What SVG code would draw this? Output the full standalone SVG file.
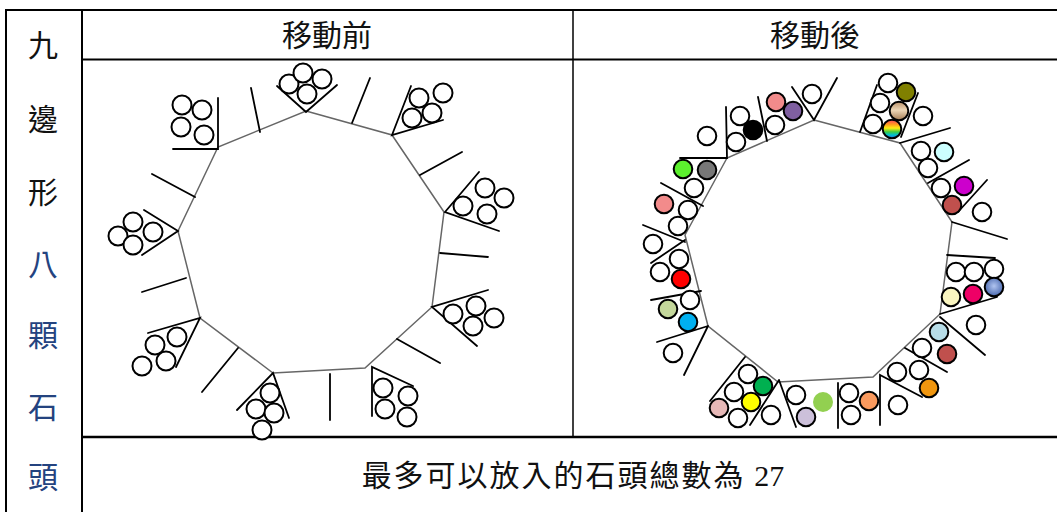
<svg xmlns="http://www.w3.org/2000/svg" width="1057" height="512" viewBox="0 0 1057 512">
<style>
.tbl{stroke:#000;fill:none}
.poly{fill:none;stroke:#666;stroke-width:1.5}
.ln{stroke:#000;stroke-width:1.8;fill:none;stroke-linecap:round}
.s{stroke:#000;stroke-width:2}
.t{font-family:"Noto Sans CJK TC","Noto Sans CJK SC",sans-serif;font-size:30px;fill:#111;text-anchor:middle}
.b{fill:#24437f}
</style>
<defs>
<linearGradient id="tan" x1="0" y1="0" x2="0" y2="1">
<stop offset="0" stop-color="#b8906a"/><stop offset="0.45" stop-color="#ecd6b6"/><stop offset="1" stop-color="#a27a52"/>
</linearGradient>
<linearGradient id="rainbow" x1="0" y1="0" x2="0" y2="1">
<stop offset="0" stop-color="#ff4060"/><stop offset="0.25" stop-color="#ff9a20"/><stop offset="0.45" stop-color="#ffee10"/><stop offset="0.65" stop-color="#40cc40"/><stop offset="0.82" stop-color="#00c0d0"/><stop offset="1" stop-color="#2a70e0"/>
</linearGradient>
<radialGradient id="blue" cx="0.5" cy="0.45" r="0.6">
<stop offset="0" stop-color="#b0c4f0"/><stop offset="1" stop-color="#4060a8"/>
</radialGradient>
</defs>
<rect width="1057" height="512" fill="#fff"/>
<g id="table" class="tbl">
<line x1="5" y1="10" x2="1057" y2="10" stroke-width="2"/>
<line x1="6" y1="9" x2="6" y2="512" stroke-width="2"/>
<line x1="82" y1="9" x2="82" y2="512" stroke-width="2"/>
<line x1="82" y1="59.5" x2="1057" y2="59.5" stroke-width="2"/>
<line x1="573" y1="10" x2="573" y2="437" stroke-width="1.5"/>
<line x1="82" y1="437" x2="1057" y2="437" stroke-width="2.5"/>
</g>
<g id="labels">
<text class="t" x="327" y="46">移動前</text>
<text class="t" x="815" y="46">移動後</text>
<text class="t" x="573" y="486" style="letter-spacing:2px">最多可以放入的石頭總數為 <tspan font-family="Liberation Serif, serif" style="letter-spacing:0">27</tspan></text>
</g>
<g id="side-label">
<text class="t" x="43" y="56">九</text>
<text class="t" x="43" y="130">邊</text>
<text class="t" x="43" y="203">形</text>
<text class="t b" x="43" y="275">八</text>
<text class="t b" x="43" y="346">顆</text>
<text class="t b" x="43" y="418">石</text>
<text class="t b" x="43" y="488">頭</text>
</g>
<g id="before">
<polygon class="poly" points="306,111 392,135 444,212 432,307 365,368 273,373 200,318 178,231 218,147"/>
<g id="before-connectors">
<path class="ln" d="M218,98 L218,149 L173,149 M277,86 L306,112 L337,85 M144,210 L178,231 L142,255 M148,333 L200,318 L176,367 M237,410 L273,373 L289,418 M372,416 L372,367 L413,386 M488,290 L432,307 L477,346 M479,172 L445,212 L499,231 M411,86 L392,135 L443,120"/>
<path class="ln" d="M260,132 L251,88 M352,123 L370,78 M420,175 L462,152 M440,253 L488,257 M397,339 L440,363 M330,374 L330,420 M238,348 L202,392 M186,278 L142,292 M195,197 L152,174"/>
</g>
<g id="before-stones" style="fill:#fff">
<circle class="s" cx="182" cy="105" r="9.5"/><circle class="s" cx="202" cy="110" r="9.5"/><circle class="s" cx="181" cy="127" r="9.5"/><circle class="s" cx="204" cy="135" r="9.5"/>
<circle class="s" cx="289" cy="84" r="9.5"/><circle class="s" cx="303" cy="73" r="9.5"/><circle class="s" cx="322" cy="79" r="9.5"/><circle class="s" cx="307" cy="94" r="9.5"/>
<circle class="s" cx="419" cy="98" r="9.5"/><circle class="s" cx="443" cy="93" r="9.5"/><circle class="s" cx="412" cy="118" r="9.5"/><circle class="s" cx="432" cy="113" r="9.5"/>
<circle class="s" cx="463" cy="206" r="9.5"/><circle class="s" cx="485" cy="188" r="9.5"/><circle class="s" cx="504" cy="198" r="9.5"/><circle class="s" cx="487" cy="214" r="9.5"/>
<circle class="s" cx="453" cy="314" r="9.5"/><circle class="s" cx="476" cy="306" r="9.5"/><circle class="s" cx="494" cy="318" r="9.5"/><circle class="s" cx="473" cy="326" r="9.5"/>
<circle class="s" cx="383" cy="388" r="9.5"/><circle class="s" cx="408" cy="396" r="9.5"/><circle class="s" cx="385" cy="409" r="9.5"/><circle class="s" cx="407" cy="417" r="9.5"/>
<circle class="s" cx="270" cy="393" r="9.5"/><circle class="s" cx="256" cy="409" r="9.5"/><circle class="s" cx="274" cy="413" r="9.5"/><circle class="s" cx="262" cy="430" r="9.5"/>
<circle class="s" cx="177" cy="337" r="9.5"/><circle class="s" cx="155" cy="345" r="9.5"/><circle class="s" cx="166" cy="361" r="9.5"/><circle class="s" cx="142" cy="366" r="9.5"/>
<circle class="s" cx="133" cy="222" r="9.5"/><circle class="s" cx="153" cy="232" r="9.5"/><circle class="s" cx="118" cy="236" r="9.5"/><circle class="s" cx="133" cy="245" r="9.5"/>
</g>
</g>
<g id="after">
<polygon class="poly" points="814,120 900,143 952,222 940,314 873,377 778,382 708,326 685,235 727,158"/>
<g id="after-connectors">
<path class="ln" d="M726,107 L727,158 L680,158 M758,97 L767,141 M792,87 L814,120 L837,78 M661,183 L703,206 M643,225 L685,242 M860,132 L877,85 M901,137 L918,93 M900,143 L950,128 M928,183 L969,160 M958,212 L987,180 M952,222 L1007,239 M947,255 L995,258 M940,314 L997,297 M940,317 L985,355 M905,348 L947,372 M922,397 L880,375 L880,425 M838,383 L838,428 M779,380 L796,427 M745,357 L710,401 M779,380 L750,425 M708,326 L684,375 M657,342 L708,326 M651,300 L701,291 M651,263 L685,240"/>
</g>
<g id="after-stones" fill="#fff">
<circle class="s" cx="707" cy="136" r="9.3"/>
<circle class="s" cx="740" cy="116" r="9.3"/>
<circle class="s" cx="736" cy="142" r="9.3"/>
<circle class="s" cx="753" cy="130" r="9.3" fill="#000"/>
<circle class="s" cx="775" cy="125" r="9.3"/>
<circle class="s" cx="776" cy="102" r="9.3" fill="#f28b8b"/>
<circle class="s" cx="793" cy="111" r="9.3" fill="#7f5fa0"/>
<circle class="s" cx="812" cy="94" r="9.3"/>
<circle class="s" cx="683" cy="169" r="9.3" fill="#5cf02e"/>
<circle class="s" cx="707" cy="170" r="9.3" fill="#777"/>
<circle class="s" cx="694" cy="188" r="9.3"/>
<circle class="s" cx="664" cy="204" r="9.3" fill="#f28b8b"/>
<circle class="s" cx="688" cy="210" r="9.3"/>
<circle class="s" cx="678" cy="226" r="9.3"/>
<circle class="s" cx="653" cy="244" r="9.3"/>
<circle class="s" cx="888" cy="83" r="9.3"/>
<circle class="s" cx="906" cy="92" r="9.3" fill="#808000"/>
<circle class="s" cx="880" cy="103" r="9.3"/>
<circle class="s" cx="899" cy="111" r="9.3" fill="url(#tan)"/>
<circle class="s" cx="873" cy="124" r="9.3"/>
<circle class="s" cx="892" cy="129" r="9.3" fill="url(#rainbow)"/>
<circle class="s" cx="923" cy="116" r="9.3"/>
<circle class="s" cx="921" cy="151" r="9.3"/>
<circle class="s" cx="944" cy="152" r="9.3" fill="#ccffff"/>
<circle class="s" cx="928" cy="168" r="9.3"/>
<circle class="s" cx="941" cy="188" r="9.3"/>
<circle class="s" cx="964" cy="186" r="9.3" fill="#cc00cc"/>
<circle class="s" cx="952" cy="205" r="9.3" fill="#c0504d"/>
<circle class="s" cx="982" cy="212" r="9.3"/>
<circle class="s" cx="956" cy="272" r="9.3"/>
<circle class="s" cx="974" cy="272" r="9.3"/>
<circle class="s" cx="994" cy="269" r="9.3"/>
<circle class="s" cx="951" cy="297" r="9.3" fill="#f9f5c0"/>
<circle class="s" cx="973" cy="294" r="9.3" fill="#ee0066"/>
<circle class="s" cx="994" cy="287" r="9.3" fill="url(#blue)"/>
<circle class="s" cx="976" cy="325" r="9.3"/>
<circle class="s" cx="939" cy="332" r="9.3" fill="#b7dde8"/>
<circle class="s" cx="922" cy="348" r="9.3"/>
<circle class="s" cx="947" cy="354" r="9.3" fill="#c0504d"/>
<circle class="s" cx="897" cy="372" r="9.3"/>
<circle class="s" cx="919" cy="370" r="9.3"/>
<circle class="s" cx="929" cy="388" r="9.3" fill="#f0960f"/>
<circle class="s" cx="898" cy="405" r="9.3"/>
<circle class="s" cx="849" cy="393" r="9.3"/>
<circle class="s" cx="869" cy="401" r="9.3" fill="#fa9a5e"/>
<circle class="s" cx="851" cy="415" r="9.3"/>
<circle class="s" cx="679" cy="259" r="9.3"/>
<circle class="s" cx="660" cy="272" r="9.3"/>
<circle class="s" cx="681" cy="279" r="9.3" fill="#ff0000"/>
<circle class="s" cx="690" cy="300" r="9.3"/>
<circle class="s" cx="668" cy="309" r="9.3" fill="#c4d79b"/>
<circle class="s" cx="688" cy="322" r="9.3" fill="#00b0f0"/>
<circle class="s" cx="673" cy="353" r="9.3"/>
<circle class="s" cx="748" cy="374" r="9.3"/>
<circle class="s" cx="763" cy="386" r="9.3" fill="#00b050"/>
<circle class="s" cx="734" cy="392" r="9.3"/>
<circle class="s" cx="751" cy="402" r="9.3" fill="#ffff00"/>
<circle class="s" cx="719" cy="408" r="9.3" fill="#e6b8b7"/>
<circle class="s" cx="738" cy="418" r="9.3"/>
<circle class="s" cx="771" cy="415" r="9.3"/>
<circle class="s" cx="796" cy="395" r="9.3"/>
<circle class="s" cx="806" cy="417" r="9.3" fill="#ccc0da"/>
<circle cx="823" cy="402" r="10" fill="#92d050"/>
</g>
</g>
</svg>
